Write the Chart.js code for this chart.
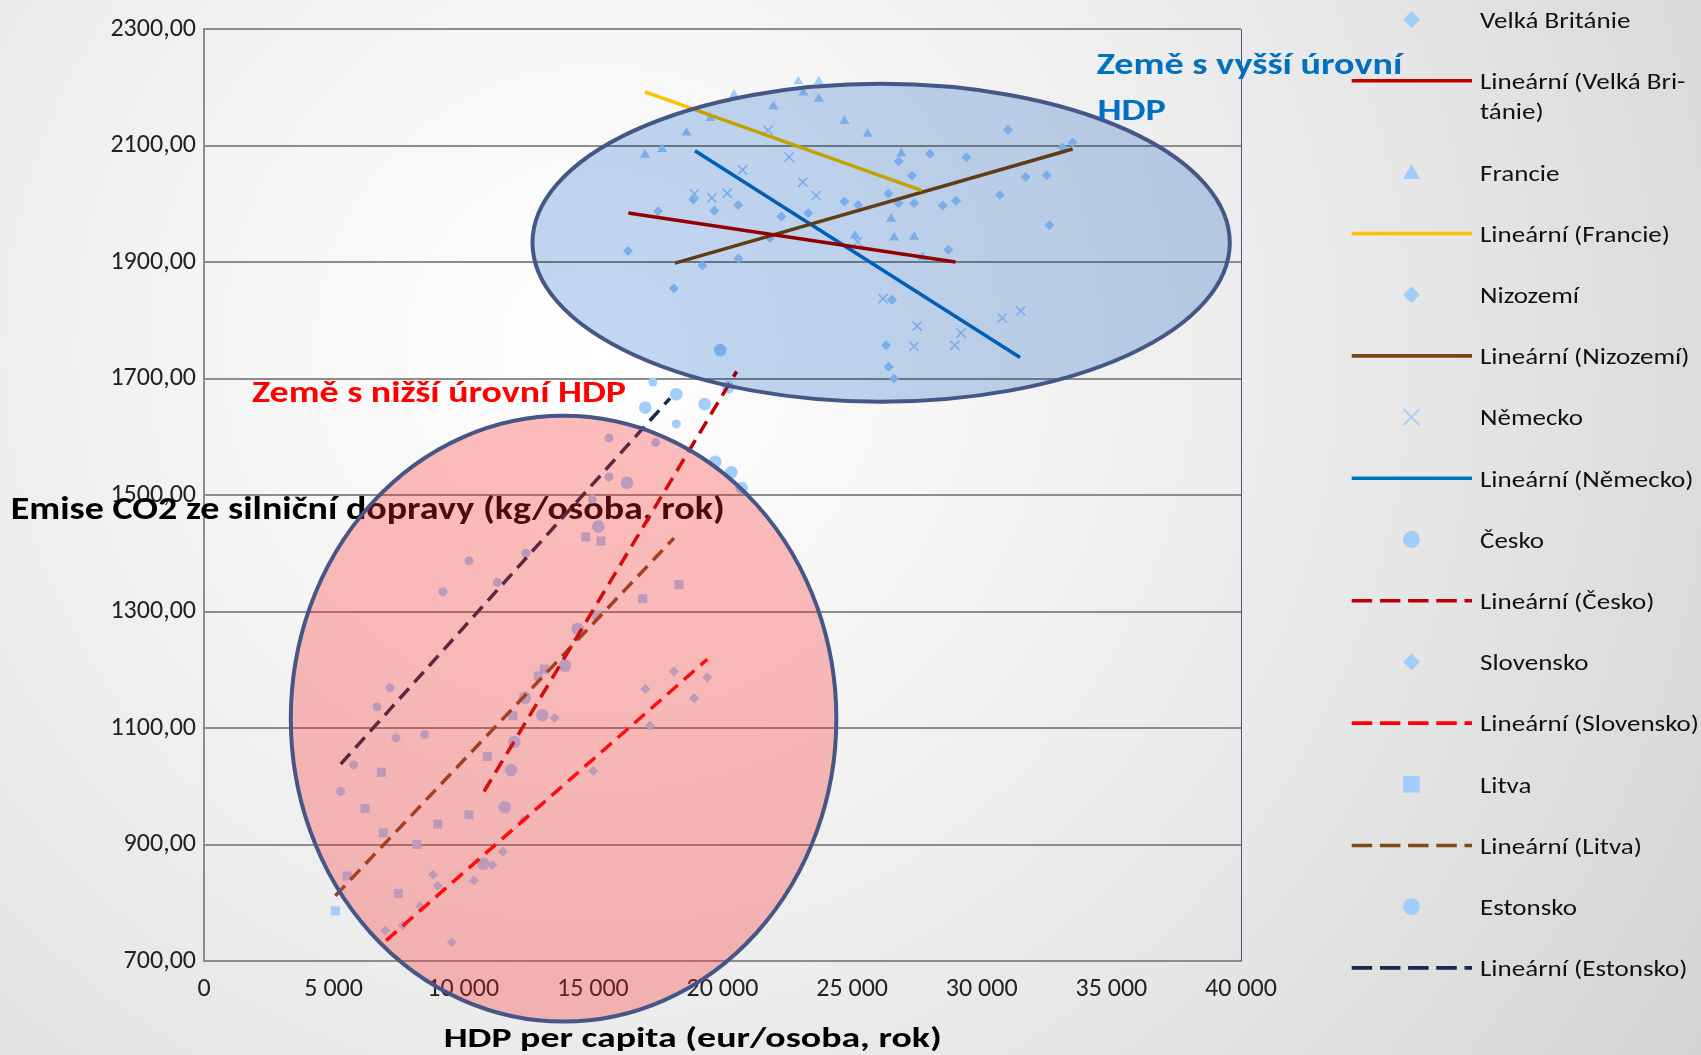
<!DOCTYPE html>
<html lang="cs">
<head>
<meta charset="utf-8">
<title>Emise CO2 ze silniční dopravy a HDP per capita</title>
<script src="https://cdn.jsdelivr.net/npm/chart.js@4.4.1/dist/chart.umd.min.js"></script>
<style>
  html, body { margin: 0; padding: 0; background: #e4e4e4; }
  #wrap { width: 1701px; height: 1055px; }
</style>
</head>
<body>
<div id="wrap"><canvas id="chart" width="1701" height="1055"></canvas></div>
<script>
// Data: [HDP per capita (eur), emise CO2 (kg/osoba)]
const velkaBritanie = [[16354,1919],[17512,1987],[18874,2007],[19684,1988],[20610,1998],[22268,1978],[23310,1984],[26796,2073],[27310,2048],[26796,2001],[28004,2086],[29408,2080],[28716,1921],[26537,1835],[26306,1757],[26410,1720],[26614,1700]];
const francie = [[17009,2084],[17670,2094],[18611,2122],[19536,2147],[20442,2187],[21965,2167],[22923,2210],[23116,2191],[23713,2210],[23713,2180],[24703,2142],[25601,2120],[26900,2086],[26503,1974],[25108,1945],[26619,1942],[27390,1943],[27712,1908]];
const nizozemi = [[18128,1855],[19226,1894],[20615,1906],[21830,1941],[24703,2004],[25237,1998],[26400,2017],[27390,2001],[28497,1997],[29011,2005],[30702,2015],[31010,2127],[31695,2046],[32505,2049],[32610,1963],[33111,2097],[33505,2105]];
const nemecko = [[18911,2017],[19593,2010],[20183,2018],[20773,2058],[21760,2126],[22570,2080],[23097,2037],[23610,2014],[25210,1935],[26194,1837],[27390,1755],[27506,1790],[28960,1757],[29204,1778],[30797,1804],[31502,1816]];
const cesko = [[10773,867],[11598,964],[11841,1028],[11968,1076],[12381,1152],[13048,1122],[13924,1207],[14413,1270],[15209,1446],[16315,1521],[17021,1650],[18217,1673],[19312,1656],[19721,1557],[20338,1539],[20739,1512],[20222,1685],[19914,1749]];
const slovensko = [[6993,752],[7664,761],[8345,794],[8833,848],[9014,829],[9554,732],[10414,838],[11120,865],[11521,888],[12316,942],[13526,1117],[15016,1026],[17022,1167],[17202,1104],[18128,1197],[18911,1151],[19413,1187]];
const litva = [[5066,786],[5528,846],[6210,962],[6839,1024],[6916,920],[7495,816],[8215,900],[9014,935],[10221,951],[10927,1051],[11918,1121],[12894,1189],[13126,1201],[15146,1294],[16921,1322],[18321,1346],[14722,1428],[15312,1421]];
const estonsko = [[5273,991],[5774,1037],[6673,1136],[7174,1169],[7405,1083],[8512,1089],[9218,1334],[10221,1387],[11313,1350],[12420,1400],[14977,1493],[15621,1531],[15621,1598],[17422,1590],[17318,1694],[18217,1622]];

// Lineární trendy (koncové body)
const trendVelkaBritanie = [[16367,1984],[28985,1900]];
const trendFrancie = [[17009,2192],[27673,2023]];
const trendNizozemi = [[18166,1898],[33505,2094]];
const trendNemecko = [[18938,2091],[31478,1736]];
const trendCesko = [[10800,991],[20545,1712]];
const trendSlovensko = [[7020,735],[19413,1218]];
const trendLitva = [[5066,812],[18128,1426]];
const trendEstonsko = [[5273,1038],[17973,1666]];

// Skupiny zemí (elipsy v datových souřadnicích)
const highGroup = { cx: 26119, cy: 1933, rx: 13449, ry: 273 };
const lowGroup = { cx: 13870, cy: 1116, rx: 10522, ry: 520 };

const FONT = 'Carlito, Calibri, Lato, "Open Sans", sans-serif';
const MARKER = '#A0CDF9';

const pts = arr => arr.map(([x, y]) => ({ x, y }));

function markerSet(label, data, style, radius) {
    return {
        label: label,
        data: pts(data),
        pointStyle: style,
        pointRadius: radius,
        pointHoverRadius: radius,
        backgroundColor: MARKER,
        borderColor: MARKER,
        pointBorderWidth: style === 'crossRot' ? 1.6 : 0,
        showLine: false,
        order: 1,
        legendKind: 'marker'
    };
}

function trendSet(label, data, color, dashed) {
    return {
        label: label,
        data: pts(data),
        showLine: true,
        pointRadius: 0,
        pointHoverRadius: 0,
        borderColor: color,
        backgroundColor: color,
        borderWidth: 3.5,
        borderDash: dashed ? [14, 8] : [],
        order: 0,
        legendKind: 'line'
    };
}

const datasets = [
    markerSet('Velká Británie', velkaBritanie, 'rectRot', 5),
    trendSet('Lineární (Velká Británie)', trendVelkaBritanie, '#C00000', false),
    markerSet('Francie', francie, 'triangle', 5.8),
    trendSet('Lineární (Francie)', trendFrancie, '#FFC000', false),
    markerSet('Nizozemí', nizozemi, 'rectRot', 5),
    trendSet('Lineární (Nizozemí)', trendNizozemi, '#7A4816', false),
    markerSet('Německo', nemecko, 'crossRot', 6.5),
    trendSet('Lineární (Německo)', trendNemecko, '#0070C0', false),
    markerSet('Česko', cesko, 'circle', 6.3),
    trendSet('Lineární (Česko)', trendCesko, '#C00000', true),
    markerSet('Slovensko', slovensko, 'rectRot', 5),
    trendSet('Lineární (Slovensko)', trendSlovensko, '#FF0000', true),
    markerSet('Litva', litva, 'rect', 6.4),
    trendSet('Lineární (Litva)', trendLitva, '#7F4A18', true),
    markerSet('Estonsko', estonsko, 'circle', 4.5),
    trendSet('Lineární (Estonsko)', trendEstonsko, '#182A4C', true)
];

// Text kreslený tak, aby seděla výška verzálek i šířka
function drawText(ctx, text, left, capMid, capH, opts) {
    const size = capH / 0.7165;
    ctx.save();
    ctx.font = `${opts.weight || 'normal'} ${size}px ${FONT}`;
    ctx.fillStyle = opts.color || '#000';
    ctx.textBaseline = 'alphabetic';
    ctx.textAlign = 'left';
    const w = ctx.measureText(text).width;
    const sx = opts.width ? opts.width / w : (opts.sx || 1);
    ctx.translate(left, capMid + capH / 2);
    ctx.scale(sx, 1);
    ctx.fillText(text, 0, 0);
    ctx.restore();
    return sx;
}

function textScale(ctx, text, capH, weight, width) {
    ctx.save();
    ctx.font = `${weight} ${capH / 0.7165}px ${FONT}`;
    const w = ctx.measureText(text).width;
    ctx.restore();
    return width / w;
}

function drawMarker(ctx, style, x, y, r, color) {
    ctx.save();
    ctx.fillStyle = color;
    ctx.strokeStyle = color;
    ctx.beginPath();
    switch (style) {
        case 'rectRot':
            ctx.moveTo(x - r, y); ctx.lineTo(x, y - r); ctx.lineTo(x + r, y); ctx.lineTo(x, y + r);
            ctx.closePath(); ctx.fill();
            break;
        case 'triangle':
            ctx.moveTo(x, y - r); ctx.lineTo(x + r, y + r * 0.8); ctx.lineTo(x - r, y + r * 0.8);
            ctx.closePath(); ctx.fill();
            break;
        case 'crossRot':
            ctx.lineWidth = 1.6;
            ctx.moveTo(x - r, y - r); ctx.lineTo(x + r, y + r);
            ctx.moveTo(x + r, y - r); ctx.lineTo(x - r, y + r);
            ctx.stroke();
            break;
        case 'rect':
            ctx.rect(x - r, y - r, 2 * r, 2 * r); ctx.fill();
            break;
        default:
            ctx.arc(x, y, r, 0, Math.PI * 2); ctx.fill();
    }
    ctx.restore();
}

function ellipsePath(ctx, chart, g) {
    const xs = chart.scales.x, ys = chart.scales.y;
    const cx = xs.getPixelForValue(g.cx);
    const cy = ys.getPixelForValue(g.cy);
    const rx = xs.getPixelForValue(g.cx + g.rx) - cx;
    const ry = ys.getPixelForValue(g.cy - g.ry) - cy;
    ctx.beginPath();
    ctx.ellipse(cx, cy, rx, ry, 0, 0, Math.PI * 2);
}

const decorPlugin = {
    id: 'decor',
    beforeDraw(chart) {
        const ctx = chart.ctx;
        const grad = ctx.createRadialGradient(600, 350, 0, 600, 350, 1300);
        grad.addColorStop(0, '#ffffff');
        grad.addColorStop(0.3, '#f5f5f5');
        grad.addColorStop(0.65, '#e6e6e6');
        grad.addColorStop(1, '#d4d4d4');
        ctx.save();
        ctx.fillStyle = grad;
        ctx.fillRect(0, 0, chart.width, chart.height);
        ctx.restore();
    },
    beforeDatasetsDraw(chart) {
        // popisek osy Y, vodorovně přes graf
        drawText(chart.ctx, 'Emise CO2 ze silniční dopravy (kg/osoba, rok)', 10.8, 507, 23,
            { weight: 'bold', color: '#000', width: 714 });
    },
    afterDatasetsDraw(chart) {
        const ctx = chart.ctx;
        const area = chart.chartArea;

        // pravý okraj plochy grafu
        ctx.save();
        ctx.strokeStyle = '#4A5580';
        ctx.lineWidth = 1;
        ctx.beginPath();
        ctx.moveTo(area.right + 0.5, area.top);
        ctx.lineTo(area.right + 0.5, area.bottom);
        ctx.stroke();
        ctx.restore();

        // elipsa – země s vyšší úrovní HDP
        ctx.save();
        ctx.globalCompositeOperation = 'multiply';
        ellipsePath(ctx, chart, highGroup);
        ctx.fillStyle = 'rgb(194,215,242)';
        ctx.fill();
        ctx.restore();

        // elipsa – země s nižší úrovní HDP
        ctx.save();
        ellipsePath(ctx, chart, lowGroup);
        ctx.fillStyle = 'rgba(255,40,40,0.3)';
        ctx.fill();
        ctx.restore();

        ctx.save();
        ctx.strokeStyle = '#465787';
        ctx.lineWidth = 4;
        ellipsePath(ctx, chart, highGroup);
        ctx.stroke();
        ellipsePath(ctx, chart, lowGroup);
        ctx.stroke();
        ctx.restore();

        // popisky skupin
        drawText(ctx, 'Země s nižší úrovní HDP', 252, 391, 21.7,
            { weight: 'bold', color: '#FF0000', width: 374 });
        const sx = drawText(ctx, 'Země s vyšší úrovní', 1096.7, 62.8, 22.3,
            { weight: 'bold', color: '#0070C0', width: 305.6 });
        drawText(ctx, 'HDP', 1097.5, 109.2, 22.3, { weight: 'bold', color: '#0070C0', sx: sx });

        // popisek osy X
        drawText(ctx, 'HDP per capita (eur/osoba, rok)', 443.7, 1037.3, 20,
            { weight: 'bold', color: '#000', width: 498 });
    },
    afterDraw(chart) {
        const ctx = chart.ctx;
        const lineX0 = 1351.7, lineX1 = 1472, markX = 1411.5, textX = 1480;
        const capH = 16.7;
        const sx = textScale(ctx, 'Lineární (Slovensko)', capH, 'normal', 219);
        chart.data.datasets.forEach((ds, i) => {
            const y = 19.5 + i * 61.2 + (i >= 2 ? 30.4 : 0);
            if (ds.legendKind === 'marker') {
                const r = ds.pointStyle === 'rect' ? 8.3 : (ds.pointStyle === 'crossRot' ? 8 : 8.4);
                drawMarker(ctx, ds.pointStyle, markX, y, r, MARKER);
            } else {
                ctx.save();
                ctx.strokeStyle = ds.borderColor;
                ctx.lineWidth = 3.6;
                ctx.setLineDash(ds.borderDash.length ? [20.5, 7.7] : []);
                ctx.beginPath();
                ctx.moveTo(lineX0, y);
                ctx.lineTo(lineX1, y);
                ctx.stroke();
                ctx.restore();
            }
            if (ds.label === 'Lineární (Velká Británie)') {
                drawText(ctx, 'Lineární (Velká Bri-', textX, y, capH, { color: '#111', sx: sx });
                drawText(ctx, 'tánie)', textX, y + 30.4, capH, { color: '#111', sx: sx });
            } else {
                drawText(ctx, ds.label, textX, y, capH, { color: '#111', sx: sx });
            }
        });
    }
};

const ctx = document.getElementById('chart').getContext('2d');
const chart = new Chart(ctx, {
    type: 'scatter',
    data: { datasets: datasets },
    plugins: [decorPlugin],
    options: {
        responsive: false,
        animation: false,
        events: [],
        layout: { padding: { top: 29, right: 460, left: 0, bottom: 0 } },
        plugins: {
            legend: { display: false },
            tooltip: { enabled: false }
        },
        scales: {
            x: {
                type: 'linear',
                min: 0,
                max: 40000,
                grid: { display: false, drawTicks: false },
                border: { display: true, color: '#8C8C8C', width: 2 },
                ticks: {
                    stepSize: 5000,
                    maxRotation: 0,
                    autoSkip: false,
                    padding: 13,
                    color: '#222',
                    font: { family: FONT, size: 26 },
                    callback: v => String(v).replace(/\B(?=(\d{3})+(?!\d))/g, ' ')
                },
                afterFit(scale) { scale.height = 94; }
            },
            y: {
                min: 700,
                max: 2300,
                grid: { color: '#8C8C8C', lineWidth: 2, drawTicks: false },
                border: { display: true, color: '#8C8C8C', width: 2 },
                ticks: {
                    stepSize: 200,
                    padding: 8,
                    color: '#222',
                    font: { family: FONT, size: 26 },
                    callback: v => v.toFixed(2).replace('.', ',')
                },
                afterFit(scale) { scale.width = 204; }
            }
        }
    }
});
</script>
</body>
</html>
